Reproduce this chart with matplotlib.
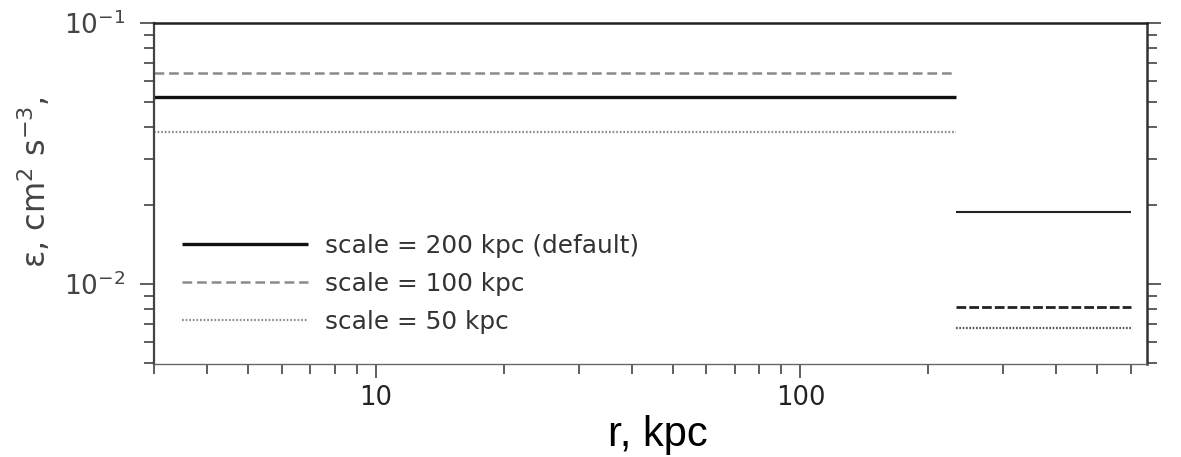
import matplotlib
matplotlib.use("Agg")
import matplotlib.pyplot as plt
from matplotlib.ticker import FixedLocator, FixedFormatter, LogLocator, NullFormatter

# ---- data ----
r_inner = [3, 233]          # kpc, first segment
r_outer = [233, 600]        # kpc, second segment
eps_200 = [0.0520, 0.0189]  # scale = 200 kpc (default)
eps_100 = [0.0643, 0.0082]  # scale = 100 kpc
eps_50 = [0.0381, 0.0068]   # scale = 50 kpc
labels = ["scale = 200 kpc (default)", "scale = 100 kpc", "scale = 50 kpc"]
x_ticks = [10, 100]
x_ticklabels = ["10", "100"]

plt.rcParams['lines.scale_dashes'] = False
plt.rcParams['font.family'] = ['DejaVu Sans']

W, H = 1181, 457
fig = plt.figure(figsize=(W / 100, H / 100), dpi=100)
L, R, T, B = 154, 1147, 23, 364
ax = fig.add_axes([L / W, 1 - B / H, (R - L) / W, (B - T) / H])

ax.set_xscale('log')
ax.set_yscale('log')
ax.set_xlim(3, 655)
ax.set_ylim(0.00494, 0.1)

# first segments
l1, = ax.plot(r_inner, [eps_200[0]] * 2, color='#111111', lw=2.4, solid_capstyle='butt', label=labels[0])
l2, = ax.plot(r_inner, [eps_100[0]] * 2, color='#8a8a8a', lw=1.8, dashes=(7, 3.5), label=labels[1])
l3, = ax.plot(r_inner, [eps_50[0]] * 2, color='#8a8a8a', lw=1.6, dashes=(1.2, 1.4), label=labels[2])
# second segments
ax.plot(r_outer, [eps_200[1]] * 2, color='#222222', lw=1.5, solid_capstyle='butt')
ax.plot(r_outer, [eps_100[1]] * 2, color='#222222', lw=2.0, dashes=(7, 2.2))
ax.plot(r_outer, [eps_50[1]] * 2, color='#555555', lw=1.6, dashes=(1.2, 1.2))

# ticks
ax.xaxis.set_major_locator(FixedLocator(x_ticks))
ax.xaxis.set_major_formatter(FixedFormatter(x_ticklabels))
ax.xaxis.set_minor_locator(LogLocator(base=10, subs=range(2, 10), numticks=20))
ax.xaxis.set_minor_formatter(NullFormatter())
ax.yaxis.set_minor_locator(LogLocator(base=10, subs=range(2, 10), numticks=20))
ax.yaxis.set_minor_formatter(NullFormatter())

ax.tick_params(which='both', direction='out', top=False, right=True, color='#333333', width=1.1)
ax.tick_params(which='major', length=10)
ax.tick_params(which='minor', length=7.5)
ax.tick_params(axis='x', which='major', labelsize=18.5, labelcolor='#222222', pad=5)
ax.tick_params(axis='y', which='major', labelsize=19, labelcolor='#444444', pad=11)

for side, lw, c in [('left', 1.6, '#444444'), ('top', 1.8, '#222222'),
                    ('right', 1.8, '#333333'), ('bottom', 1.0, '#666666')]:
    ax.spines[side].set_linewidth(lw)
    ax.spines[side].set_color(c)

ax.set_ylabel("ε, cm$^2$ s$^{-3}$,", fontsize=23, color='#444444')
ax.yaxis.set_label_coords(-0.102, 0.535)
ax.set_xlabel("r, kpc", fontsize=30, family='Liberation Sans', color='black')
ax.xaxis.set_label_coords(0.507, -0.15)

leg = ax.legend(handles=[l1, l2, l3], loc='upper left',
                bbox_to_anchor=((182 - L) / (R - L), (B - 234) / (B - T)),
                frameon=False, fontsize=17.8, handlelength=5.1, handletextpad=0.7,
                labelspacing=0.56, borderpad=0, borderaxespad=0)
for t in leg.get_texts():
    t.set_color('#333333')

fig.savefig('out.png', dpi=100, facecolor='white')
